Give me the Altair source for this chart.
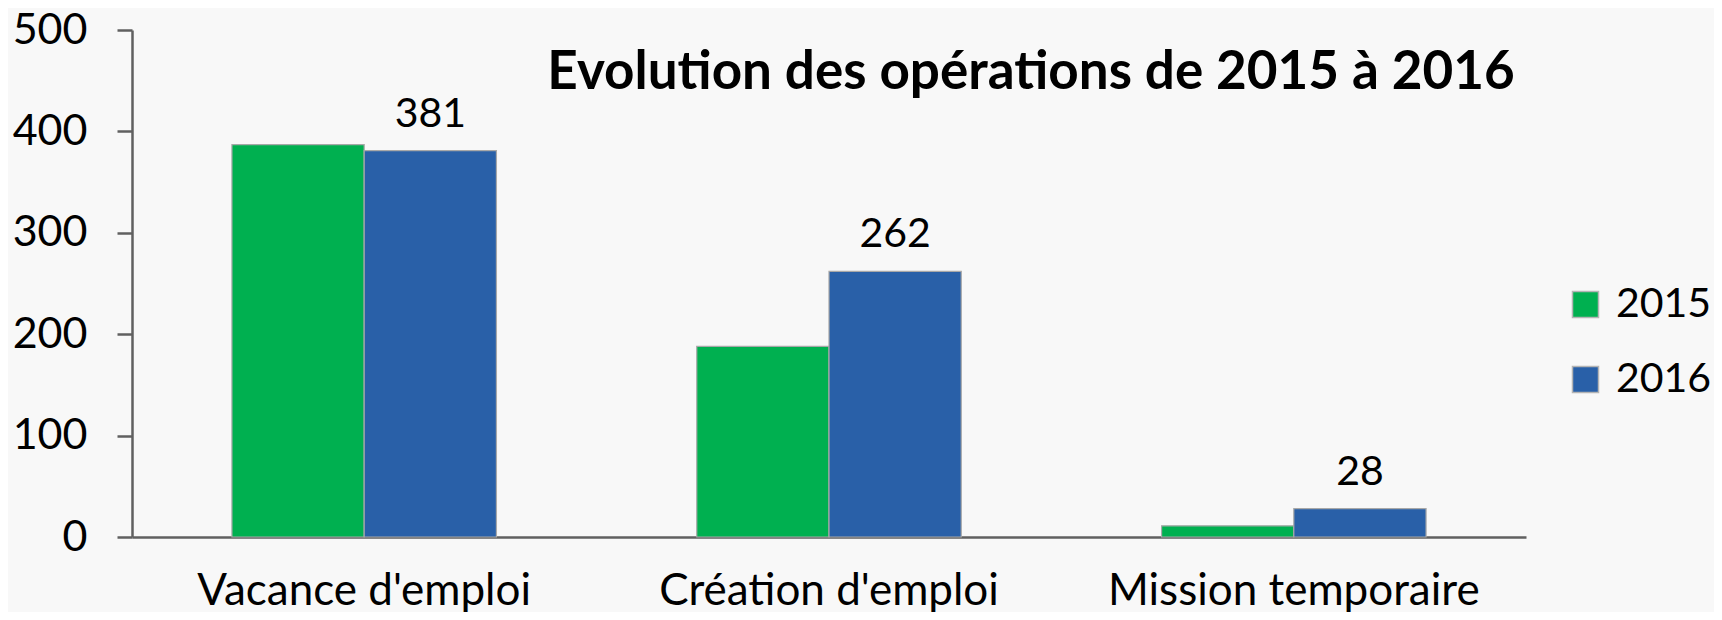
import altair as alt
import pandas as pd

categories = ["Vacance d'emploi", "Création d'emploi", "Mission temporaire"]
years = ["2015", "2016"]
values_2015 = [387, 188, 11]
values_2016 = [381, 262, 28]
colors = ["#00B050", "#2960A8"]
title_text = "Evolution des opérations de 2015 à 2016"

rows = []
for c, v in zip(categories, values_2015):
    rows.append({"Catégorie": c, "Année": "2015", "Valeur": v})
for c, v in zip(categories, values_2016):
    rows.append({"Catégorie": c, "Année": "2016", "Valeur": v})
df = pd.DataFrame(rows)
title_df = pd.DataFrame({"titre": [title_text]})

FONT = "Lato"

x_enc = alt.X(
    "Catégorie:N",
    sort=categories,
    scale=alt.Scale(paddingInner=0.431, paddingOuter=0.215),
    axis=alt.Axis(
        title=None, labelAngle=0, ticks=False, tickSize=0,
        labelFont=FONT, labelFontSize=44, labelColor="#000000",
        labelPadding=67, labelBaseline="alphabetic", labelLimit=1000,
        domainColor="#606060", domainWidth=2.5,
    ),
)
xoff = alt.XOffset("Année:N", sort=years, scale=alt.Scale(paddingInner=0, paddingOuter=0))
y_enc = alt.Y(
    "Valeur:Q",
    scale=alt.Scale(domain=[0, 500], nice=False),
    axis=alt.Axis(
        title=None, values=[0, 100, 200, 300, 400, 500], grid=False,
        tickSize=15, tickColor="#606060", tickWidth=2.5,
        domainColor="#606060", domainWidth=2.5,
        labelFont=FONT, labelFontSize=43, labelColor="#000000",
        labelPadding=30,
    ),
)

bars = alt.Chart(df).mark_bar(stroke="#a8a8a8", strokeWidth=1.2).encode(
    x=x_enc,
    xOffset=xoff,
    y=y_enc,
    color=alt.Color(
        "Année:N",
        sort=years,
        scale=alt.Scale(domain=years, range=colors),
        legend=alt.Legend(
            title=None, orient="none", legendX=1433, legendY=254,
            symbolType="square", symbolSize=676,
            symbolStrokeColor="#b4b4b4", symbolStrokeWidth=1.5,
            labelFont=FONT, labelFontSize=41, labelColor="#000000",
            labelOffset=10, rowPadding=33, padding=0,
        ),
    ),
)

labels = alt.Chart(df).transform_filter(alt.datum["Année"] == "2016").mark_text(
    font=FONT, fontSize=41, color="#000000", baseline="alphabetic", dy=-24
).encode(
    x=alt.X("Catégorie:N", sort=categories),
    xOffset=alt.XOffset("Année:N", sort=years),
    y=alt.Y("Valeur:Q"),
    text=alt.Text("Valeur:Q"),
)

title_mark = alt.Chart(title_df).mark_text(
    font=FONT, fontSize=53, fontWeight="bold", color="#000000",
    align="center", baseline="alphabetic",
).encode(
    x=alt.value(899),
    y=alt.value(59),
    text="titre:N",
)

chart = alt.layer(bars, labels, title_mark).properties(
    width=1394,
    height=507,
    autosize=alt.AutoSizeParams(type="none"),
    padding={"left": 124, "top": 22, "right": 188, "bottom": 75},
).configure(background="#f8f8f8").configure_view(stroke=None)

chart.save("out.html", embed_options={"renderer": "svg", "actions": False})
